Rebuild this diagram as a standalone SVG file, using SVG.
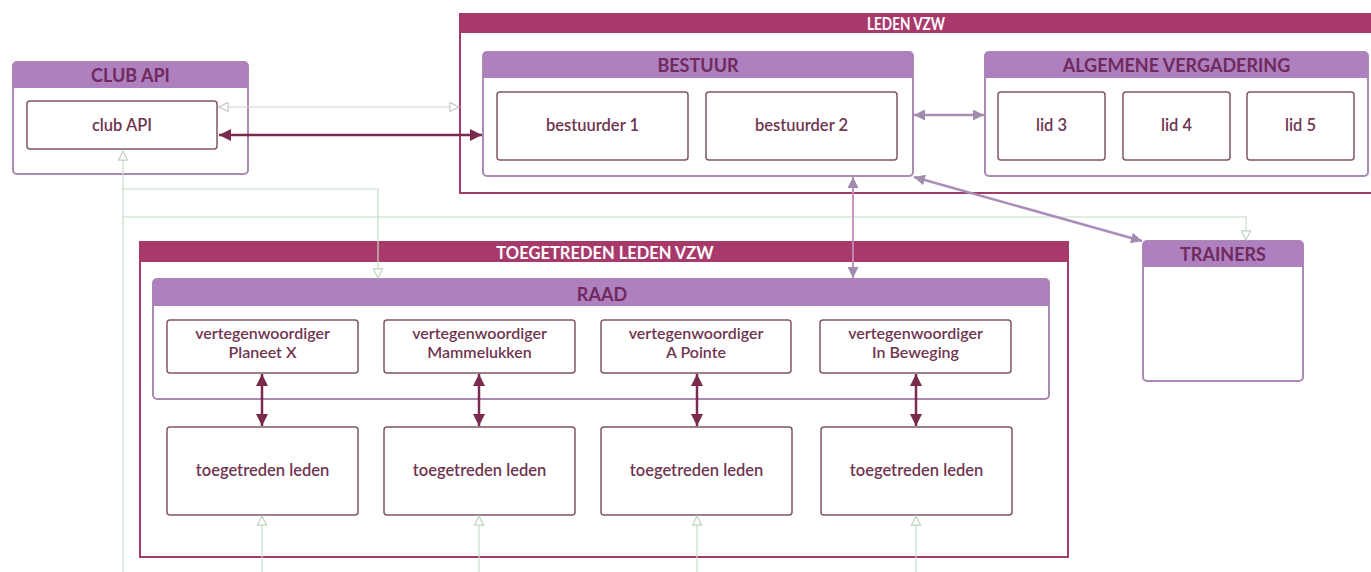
<svg xmlns="http://www.w3.org/2000/svg" width="1371" height="572" viewBox="0 0 1371 572">
<style>
.bg{fill:#ffffff}
.vzw{fill:#ffffff;stroke:#a23b68;stroke-width:2}
.vzwh{fill:#a83a6b}
.vzwt{font-family:Lato,"Noto Sans",sans-serif;font-weight:700;font-size:16.5px;fill:#ffffff;text-anchor:middle}
.grp{fill:#ffffff;stroke:#a88ab3;stroke-width:2}
.grph{fill:#ae80be}
.grpt{font-family:Lato,"Noto Sans",sans-serif;font-weight:700;font-size:18px;fill:#702a5e;text-anchor:middle}
.leaf{fill:#ffffff;stroke:#7f5768;stroke-width:1.5}
.lt{font-family:Lato,"Noto Sans",sans-serif;font-weight:600;font-size:16.5px;fill:#6f3550;text-anchor:middle}
.lt2{font-family:Lato,"Noto Sans",sans-serif;font-weight:600;font-size:16px;fill:#6f3550;text-anchor:middle}
.dark{fill:none;stroke:#7a2a4d;stroke-width:2.5}
.purp{fill:none;stroke:#ab8dba;stroke-width:2.5}
.pink{fill:none;stroke:#c48ab8;stroke-width:1.8}
.green{fill:none;stroke:#c6dcc6;stroke-width:1.2}
.grey{fill:none;stroke:#cfcfcf;stroke-width:1.2}
</style>
<defs>
<marker id="mDark" viewBox="0 0 10 10" refX="10" refY="5" markerWidth="12" markerHeight="12" markerUnits="userSpaceOnUse" orient="auto-start-reverse"><path d="M0,0 L10,5 L0,10 z" fill="#7a2a4d"/></marker>
<marker id="mPurp" viewBox="0 0 10 10" refX="10" refY="5" markerWidth="11" markerHeight="11" markerUnits="userSpaceOnUse" orient="auto-start-reverse"><path d="M0,0 L10,5 L0,10 z" fill="#a08cae"/></marker>
<marker id="mGreen" viewBox="0 0 12 12" refX="11" refY="6" markerWidth="11" markerHeight="11" markerUnits="userSpaceOnUse" orient="auto-start-reverse"><path d="M1,1 L11,6 L1,11 z" fill="#ffffff" stroke="#bcd4bc" stroke-width="1.3"/></marker>
<marker id="mGrey" viewBox="0 0 12 12" refX="11" refY="6" markerWidth="11" markerHeight="11" markerUnits="userSpaceOnUse" orient="auto-start-reverse"><path d="M1,1 L11,6 L1,11 z" fill="#ffffff" stroke="#c8c8c8" stroke-width="1.3"/></marker>
</defs>
<rect class="bg" x="0" y="0" width="1371" height="572"/>

<g id="leden-vzw">
<rect class="vzw" x="460" y="14" width="930" height="179"/>
<rect class="vzwh" x="460" y="14" width="930" height="19"/>
<text class="vzwt" x="906" y="30" textLength="78" lengthAdjust="spacingAndGlyphs">LEDEN VZW</text>
</g>

<g id="toegetreden-vzw">
<rect class="vzw" x="140" y="242" width="928" height="315"/>
<rect class="vzwh" x="140" y="242" width="928" height="20"/>
<text class="vzwt" x="605" y="259">TOEGETREDEN LEDEN VZW</text>
</g>

<g id="club-api-group">
<rect class="grp" x="13" y="62" width="235" height="112" rx="4"/>
<path class="grph" d="M13,88 V66 a4,4 0 0 1 4,-4 H244 a4,4 0 0 1 4,4 V88 z"/>
<text class="grpt" x="130.5" y="82">CLUB API</text>
</g>
<g id="club-api">
<rect class="leaf" x="27" y="101" width="190" height="48" rx="3"/>
<text class="lt" x="122" y="131">club API</text>
</g>

<g id="bestuur">
<rect class="grp" x="483" y="52" width="430" height="124" rx="4"/>
<path class="grph" d="M483,78 V56 a4,4 0 0 1 4,-4 H909 a4,4 0 0 1 4,4 V78 z"/>
<text class="grpt" x="698" y="72">BESTUUR</text>
</g>
<g id="bestuurder-1">
<rect class="leaf" x="497" y="92" width="191" height="68" rx="3"/>
<text class="lt" x="592.5" y="131">bestuurder 1</text>
</g>
<g id="bestuurder-2">
<rect class="leaf" x="706" y="92" width="191" height="68" rx="3"/>
<text class="lt" x="801.5" y="131">bestuurder 2</text>
</g>

<g id="algemene-vergadering">
<rect class="grp" x="985" y="52" width="383" height="124" rx="4"/>
<path class="grph" d="M985,78 V56 a4,4 0 0 1 4,-4 H1364 a4,4 0 0 1 4,4 V78 z"/>
<text class="grpt" x="1176.5" y="72">ALGEMENE VERGADERING</text>
</g>
<g id="lid-3">
<rect class="leaf" x="998" y="92" width="107" height="68" rx="3"/>
<text class="lt" x="1051.5" y="131">lid 3</text>
</g>
<g id="lid-4">
<rect class="leaf" x="1123" y="92" width="107" height="68" rx="3"/>
<text class="lt" x="1176.5" y="131">lid 4</text>
</g>
<g id="lid-5">
<rect class="leaf" x="1247" y="92" width="107" height="68" rx="3"/>
<text class="lt" x="1300.5" y="131">lid 5</text>
</g>

<g id="trainers">
<rect class="grp" x="1143" y="241" width="160" height="140" rx="4"/>
<path class="grph" d="M1143,267 V245 a4,4 0 0 1 4,-4 H1299 a4,4 0 0 1 4,4 V267 z"/>
<text class="grpt" x="1223" y="261">TRAINERS</text>
</g>

<g id="raad">
<rect class="grp" x="153" y="279" width="896" height="120" rx="4"/>
<path class="grph" d="M153,306 V283 a4,4 0 0 1 4,-4 H1045 a4,4 0 0 1 4,4 V306 z"/>
<text class="grpt" x="602" y="301">RAAD</text>
</g>
<g id="vert-planeet-x">
<rect class="leaf" x="167" y="320" width="191" height="53" rx="3"/>
<text class="lt2" x="262.5" y="339">vertegenwoordiger</text>
<text class="lt2" x="262.5" y="358">Planeet X</text>
</g>
<g id="vert-mammelukken">
<rect class="leaf" x="384" y="320" width="191" height="53" rx="3"/>
<text class="lt2" x="479.5" y="339">vertegenwoordiger</text>
<text class="lt2" x="479.5" y="358">Mammelukken</text>
</g>
<g id="vert-a-pointe">
<rect class="leaf" x="601" y="320" width="190" height="53" rx="3"/>
<text class="lt2" x="696" y="339">vertegenwoordiger</text>
<text class="lt2" x="696" y="358">A Pointe</text>
</g>
<g id="vert-in-beweging">
<rect class="leaf" x="820" y="320" width="191" height="53" rx="3"/>
<text class="lt2" x="915.5" y="339">vertegenwoordiger</text>
<text class="lt2" x="915.5" y="358">In Beweging</text>
</g>
<g id="leden-planeet-x">
<rect class="leaf" x="167" y="427" width="191" height="88" rx="3"/>
<text class="lt" x="262.5" y="476">toegetreden leden</text>
</g>
<g id="leden-mammelukken">
<rect class="leaf" x="384" y="427" width="191" height="88" rx="3"/>
<text class="lt" x="479.5" y="476">toegetreden leden</text>
</g>
<g id="leden-a-pointe">
<rect class="leaf" x="601" y="427" width="191" height="88" rx="3"/>
<text class="lt" x="696.5" y="476">toegetreden leden</text>
</g>
<g id="leden-in-beweging">
<rect class="leaf" x="821" y="427" width="191" height="88" rx="3"/>
<text class="lt" x="916.5" y="476">toegetreden leden</text>
</g>

<g id="connectors">
<path class="green" d="M123,572 V151" marker-end="url(#mGreen)"/>
<path class="green" d="M123,189 H378 V278" marker-end="url(#mGreen)"/>
<path class="green" d="M123,217 H1246 V240" marker-end="url(#mGreen)"/>
<path class="green" d="M262,572 V516" marker-end="url(#mGreen)"/>
<path class="green" d="M479,572 V516" marker-end="url(#mGreen)"/>
<path class="green" d="M697,572 V516" marker-end="url(#mGreen)"/>
<path class="green" d="M916,572 V516" marker-end="url(#mGreen)"/>
<path class="grey" d="M219,107 H459" marker-start="url(#mGrey)" marker-end="url(#mGrey)"/>
<path class="dark" d="M219,135 H482" marker-start="url(#mDark)" marker-end="url(#mDark)"/>
<path class="purp" d="M914,115 H984" marker-start="url(#mPurp)" marker-end="url(#mPurp)"/>
<path class="pink" d="M853,177 V278" marker-start="url(#mPurp)" marker-end="url(#mPurp)"/>
<path class="purp" d="M914,177 L1142,241" marker-start="url(#mPurp)" marker-end="url(#mPurp)"/>
<path class="dark" d="M262,374 V426" marker-start="url(#mDark)" marker-end="url(#mDark)"/>
<path class="dark" d="M479,374 V426" marker-start="url(#mDark)" marker-end="url(#mDark)"/>
<path class="dark" d="M697,374 V426" marker-start="url(#mDark)" marker-end="url(#mDark)"/>
<path class="dark" d="M916,374 V426" marker-start="url(#mDark)" marker-end="url(#mDark)"/>
</g>
</svg>
